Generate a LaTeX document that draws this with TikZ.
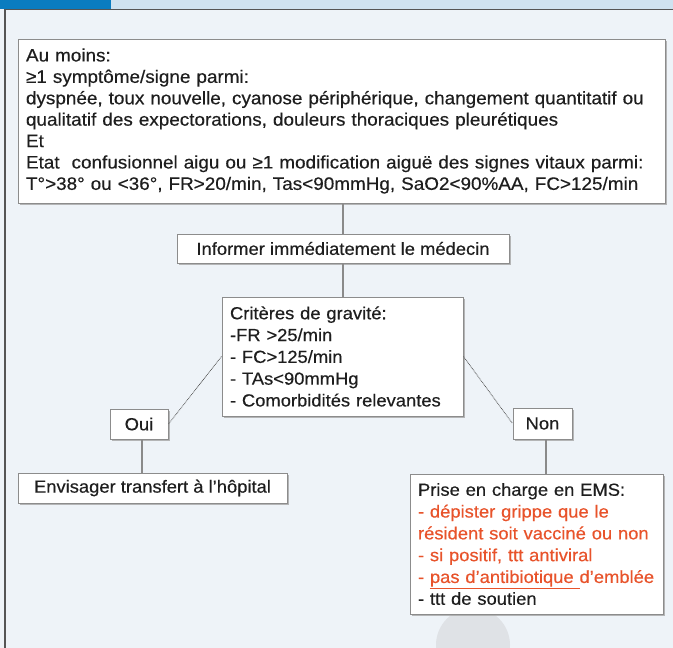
\documentclass[tikz,border=0pt]{standalone}
\usepackage{fontspec}
\setmainfont{Liberation Sans}[FakeStretch=1.05,FakeBold=0.4]
\usetikzlibrary{shadows,calc}
\definecolor{bgc}{HTML}{EEF3F8}
\definecolor{tabblue}{HTML}{0A7CC0}
\definecolor{bandblue}{HTML}{CFE2F0}
\definecolor{framec}{HTML}{555555}
\definecolor{boxline}{HTML}{8C8C8C}
\definecolor{connc}{HTML}{8A8A8A}
\definecolor{dotc}{HTML}{5A5A5A}
\definecolor{redt}{HTML}{E8532B}
\definecolor{circc}{HTML}{DFE2E6}
\definecolor{textc}{HTML}{1E1E1E}
\begin{document}
\begin{tikzpicture}[x=1pt,y=-1pt,
  box/.style={draw=boxline, line width=1pt, fill=white, inner ysep=0pt, inner xsep=8pt, text=textc,
    drop shadow={shadow xshift=1.6pt, shadow yshift=-1.6pt, fill=black!35, opacity=0.8},
    font=\fontsize{17.5}{21.8}\selectfont},
  conn/.style={draw=connc, line width=2pt},
  dline/.style={draw=dotc, line width=0.8pt, dash pattern=on 0.8pt off 0.8pt}]
\useasboundingbox (0,0) rectangle (673,648);
\fill[bgc] (0,0) rectangle (673,648);
\fill[tabblue] (0,0) rectangle (111,9);
\fill[bandblue] (111,0) rectangle (673,9);
\draw[framec, line width=1.2pt] (5,648) -- (5,9.5) -- (673,9.5);
\fill[circc] (473,645) circle (37);

\node[box, minimum width=647pt, minimum height=164pt, text width=631pt, inner xsep=8pt, align=left,
  font=\fontsize{18}{21.4}\selectfont] (top) at (341.5,121)
{Au moins:\\
≥1 symptôme/signe parmi:\\
dyspnée, toux nouvelle, cyanose périphérique, changement quantitatif ou\\
qualitatif des expectorations, douleurs thoraciques pleurétiques\\
Et\\
Etat\ \ confusionnel aigu ou ≥1 modification aiguë des signes vitaux parmi:\\
T°>38° ou <36°, FR>20/min, Tas<90mmHg, SaO2<90\%AA, FC>125/min};

\node[box, minimum width=332pt, minimum height=29pt, align=center] (inf) at (343,248.5)
{Informer immédiatement le médecin};

\node[box, minimum width=241pt, minimum height=119pt, text width=225pt, align=left] (crit) at (342.5,356.5)
{Critères de gravité:\\
-FR >25/min\\
- FC>125/min\\
- TAs<90mmHg\\
- Comorbidités relevantes};

\node[box, minimum width=58pt, minimum height=30pt, inner xsep=2pt] (oui) at (139,424) {Oui};
\node[box, minimum width=59pt, minimum height=31pt, inner xsep=2pt] (non) at (542.5,423.5) {Non};

\node[box, minimum width=269pt, minimum height=30pt, inner xsep=2pt] (env) at (152.5,488)
{Envisager transfert à l’hôpital};

\node[box, minimum width=253pt, minimum height=140pt, text width=237pt, align=left] (ems) at (536.5,544)
{Prise en charge en EMS:\\
\textcolor{redt}{- dépister grippe que le}\\
\textcolor{redt}{résident soit vacciné ou non}\\
\textcolor{redt}{- si positif, ttt antiviral}\\
\textcolor{redt}{- \underline{pas d’antibiotique\ }d’emblée}\\
- ttt de soutien};

\draw[conn] (inf.north) -- (inf.north |- top.south);
\draw[conn] (inf.south) -- (inf.south |- crit.north);
\draw[dline] (crit.west) -- (oui.east);
\draw[dline] (crit.east) -- (non.west);
\draw[conn] ($(oui.south)+(3,0)$) -- ($(oui.south |- env.north)+(3,0)$);
\draw[conn] ($(non.south)+(3.5,0)$) -- ($(non.south |- ems.north)+(3.5,0)$);
\end{tikzpicture}
\end{document}
